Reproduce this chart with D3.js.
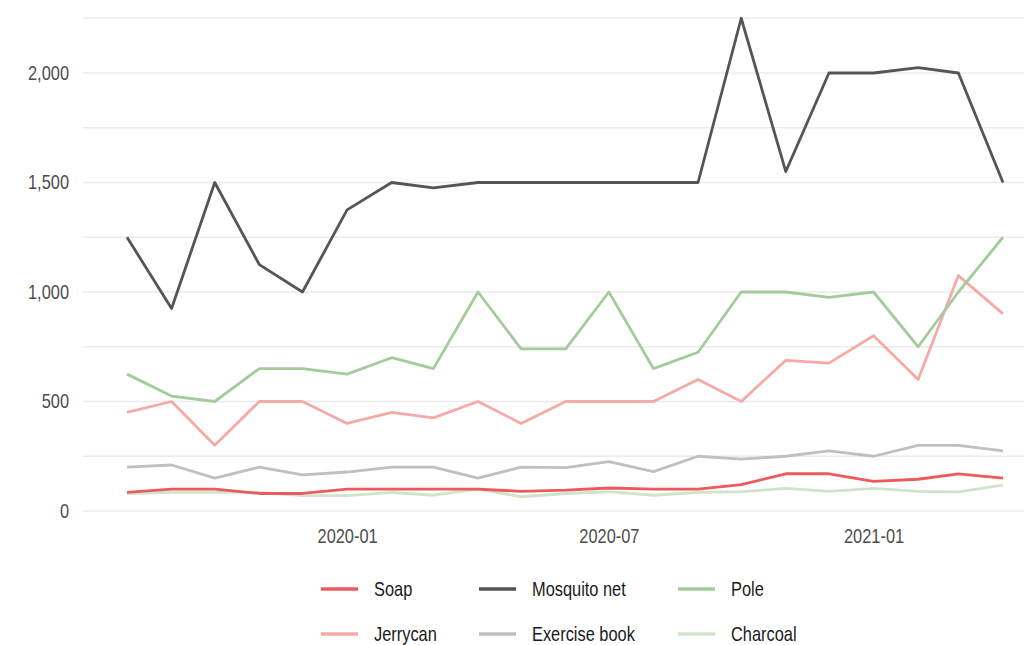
<!DOCTYPE html>
<html>
<head>
<meta charset="utf-8">
<script src="https://cdn.jsdelivr.net/npm/d3@7"></script>
<style>
  html, body { margin: 0; padding: 0; background: #fff; }
  svg { display: block; font-family: "Liberation Sans", Arial, sans-serif; }
</style>
</head>
<body>
<svg id="chart" width="1024" height="645"></svg>
<script>
const months = ["2019-08","2019-09","2019-10","2019-11","2019-12","2020-01","2020-02","2020-03","2020-04","2020-05","2020-06","2020-07","2020-08","2020-09","2020-10","2020-11","2020-12","2021-01","2021-02","2021-03","2021-04"];
const seriesNames = ["Soap","Mosquito net","Pole","Jerrycan","Exercise book","Charcoal"];
const soap = [85,100,100,80,80,100,100,100,100,90,95,105,100,100,120,170,170,135,145,170,150];
const mosquitoNet = [1250,925,1500,1125,1000,1375,1500,1475,1500,1500,1500,1500,1500,1500,2250,1550,2000,2000,2025,2000,1500];
const pole = [625,525,500,650,650,625,700,650,1000,740,740,1000,650,725,1000,1000,975,1000,750,1000,1250];
const jerrycan = [450,500,300,500,500,400,450,425,500,400,500,500,500,600,500,688,675,800,600,1075,900];
const exerciseBook = [200,210,150,200,165,178,200,200,150,200,198,225,180,250,237,250,275,250,300,300,275];
const charcoal = [80,85,85,85,70,70,85,72,100,65,80,88,72,85,88,103,90,103,90,87,118];
const yTicks = [0,500,1000,1500,2000];
const yGrid = [0,250,500,750,1000,1250,1500,1750,2000,2250];
const xTickLabels = ["2020-01","2020-07","2021-01"];
const colors = ["#ee5a5c","#555555","#a3cb9c","#f6aaa8","#c0c0c0","#cfe4ca"];

const values = [soap, mosquitoNet, pole, jerrycan, exerciseBook, charcoal];
const parse = d3.timeParse("%Y-%m");
const dates = months.map(parse);
const FONT = "Liberation Sans, Arial, sans-serif";
const NARROW = "scale(0.82,1)";

const svg = d3.select("#chart");
const panelLeft = 83, panelRight = 1047;

const x = d3.scaleTime()
  .domain(d3.extent(dates))
  .range([127, 1003]);
const y = d3.scaleLinear()
  .domain([0, 2000])
  .range([511, 73]);

// gridlines
svg.append("g").selectAll("line").data(yGrid).join("line")
  .attr("x1", panelLeft).attr("x2", panelRight)
  .attr("y1", d => y(d)).attr("y2", d => y(d))
  .attr("stroke", "#ebebeb").attr("stroke-width", 1.3);

// y axis labels
const yAxis = d3.axisLeft(y).tickValues(yTicks).tickSize(0).tickPadding(0).tickFormat(d3.format(","));
const gy = svg.append("g").attr("transform", "translate(69,0)").call(yAxis);
gy.select(".domain").remove();
gy.selectAll("text").attr("x", 0).attr("font-size", 20).attr("fill", "#4d4d4d").attr("font-family", FONT).attr("transform", NARROW);

// x axis labels
const xAxis = d3.axisBottom(x).tickValues(xTickLabels.map(parse)).tickSize(0).tickPadding(0).tickFormat(d3.timeFormat("%Y-%m"));
const gx = svg.append("g").attr("transform", "translate(0,529)").call(xAxis);
gx.select(".domain").remove();
gx.selectAll("text").attr("font-size", 20).attr("fill", "#4d4d4d").attr("font-family", FONT).attr("dy", "0.71em").attr("transform", NARROW);

// lines
const line = d3.line().x((d, i) => x(dates[i])).y(d => y(d));
const drawOrder = [5, 4, 3, 0, 2, 1];
svg.append("g").selectAll("path").data(drawOrder).join("path")
  .attr("d", k => line(values[k]))
  .attr("fill", "none")
  .attr("stroke", k => colors[k])
  .attr("stroke-width", 2.8)
  .attr("stroke-linejoin", "round");

// legend
const legCols = [321, 479, 678];
const legRows = [589, 634];
const leg = svg.append("g");
seriesNames.forEach((name, i) => {
  const cx = legCols[i % 3], cy = legRows[Math.floor(i / 3)];
  leg.append("line").attr("x1", cx).attr("x2", cx + 37).attr("y1", cy).attr("y2", cy)
    .attr("stroke", colors[i]).attr("stroke-width", 3.3);
  leg.append("g").attr("transform", `translate(${cx + 53},${cy})`)
    .append("text").attr("dy", "0.35em").attr("transform", NARROW)
    .attr("font-size", 20).attr("fill", "#1a1a1a").attr("font-family", FONT).text(name);
});
</script>
</body>
</html>
